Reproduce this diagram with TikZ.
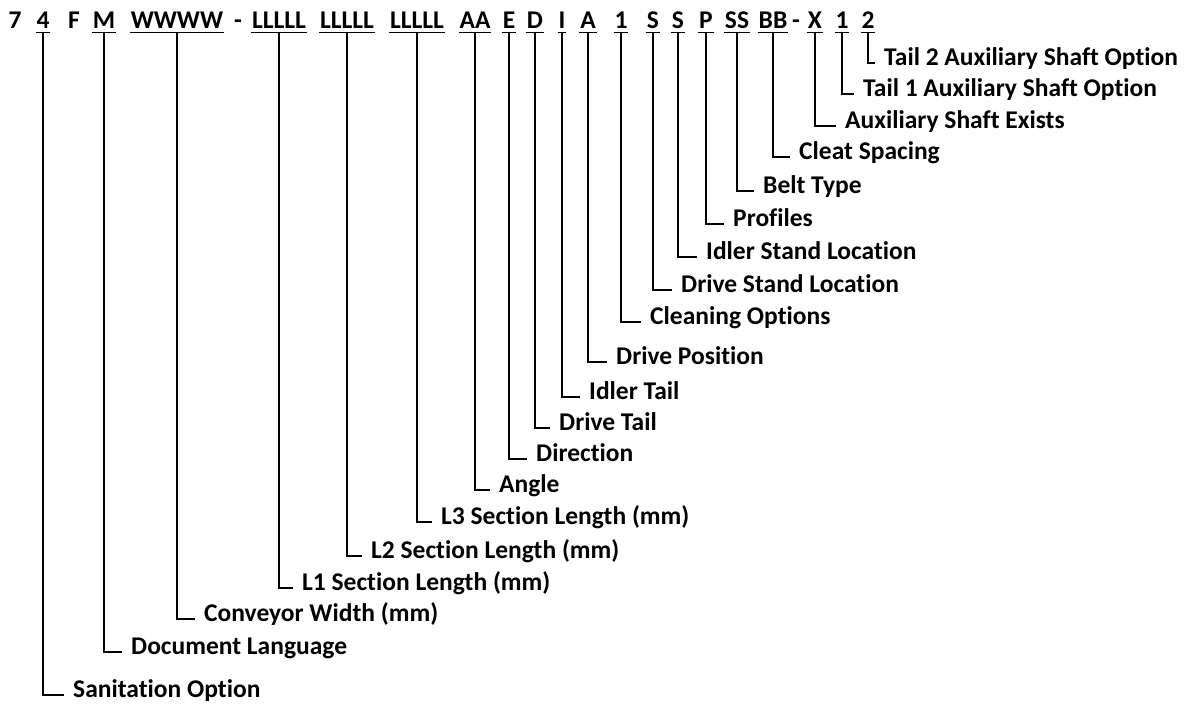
\documentclass[tikz,border=0pt]{standalone}
\usepackage{fontspec}
\setmainfont{Carlito}[Ligatures=NoCommon]
\begin{document}
\begin{tikzpicture}[x=1pt,y=-1pt,
  every node/.style={font=\fontsize{25.5}{30}\selectfont\bfseries},
  code/.style={anchor=base,inner xsep=0.8pt,inner ysep=0pt},
  lab/.style={anchor=west,inner sep=0pt,text height=0.75em,text depth=0.25em},
  conn/.style={line width=1.9pt},
  uline/.style={line width=1.9pt}]
\useasboundingbox (0,0) rectangle (1189,710);
% code row
\node[code] (c0) at (15,28) {7};
\node[code] (c1) at (43,28) {4};
\node[code] (cF) at (74,28) {F};
\node[code] (c2) at (104,28) {M};
\node[code] (c3) at (177,28) {WWWW};
\node[code] (cd1) at (238,28) {-};
\node[code] (c4) at (279,28) {LLLLL};
\node[code] (c5) at (347,28) {LLLLL};
\node[code] (c6) at (417,28) {LLLLL};
\node[code] (c7) at (475,28) {AA};
\node[code] (c8) at (509,28) {E};
\node[code] (c9) at (535,28) {D};
\node[code] (c10) at (562,28) {I};
\node[code] (c11) at (588,28) {A};
\node[code] (c12) at (621,28) {1};
\node[code] (c13) at (653,28) {S};
\node[code] (c14) at (678,28) {S};
\node[code] (c15) at (706,28) {P};
\node[code] (c16) at (737,28) {SS};
\node[code] (c17) at (773,28) {BB};
\node[code] (cd2) at (796,28) {-};
\node[code] (c18) at (815,28) {X};
\node[code] (c19) at (842,28) {1};
\node[code] (c20) at (868,28) {2};
% labels
\node[lab] (l1) at (73,695) {Sanitation Option};
\node[lab] (l2) at (131,652) {Document Language};
\node[lab] (l3) at (204,619) {Conveyor Width (mm)};
\node[lab] (l4) at (302,588) {L1 Section Length (mm)};
\node[lab] (l5) at (371,556) {L2 Section Length (mm)};
\node[lab] (l6) at (441,522) {L3 Section Length (mm)};
\node[lab] (l7) at (499,490) {Angle};
\node[lab] (l8) at (536,459) {Direction};
\node[lab] (l9) at (559,428) {Drive Tail};
\node[lab] (l10) at (589,397) {Idler Tail};
\node[lab] (l11) at (616,362) {Drive Position};
\node[lab] (l12) at (650,322) {Cleaning Options};
\node[lab] (l13) at (681,290) {Drive Stand Location};
\node[lab] (l14) at (706,257) {Idler Stand Location};
\node[lab] (l15) at (733,224) {Profiles};
\node[lab] (l16) at (763,191) {Belt Type};
\node[lab] (l17) at (799,157) {Cleat Spacing};
\node[lab] (l18) at (845,126) {Auxiliary Shaft Exists};
\node[lab] (l19) at (863,94) {Tail 1 Auxiliary Shaft Option};
\node[lab] (l20) at (884,63) {Tail 2 Auxiliary Shaft Option};
% underlines and connectors
\foreach \i in {1,...,20}{
  \draw[uline] ([yshift=-4.5pt]c\i.base west) -- ([yshift=-4.5pt]c\i.base east);
  \draw[conn] ([yshift=-4.5pt]c\i.base) |- ([xshift=-9pt]l\i.west);
}
\end{tikzpicture}
\end{document}
